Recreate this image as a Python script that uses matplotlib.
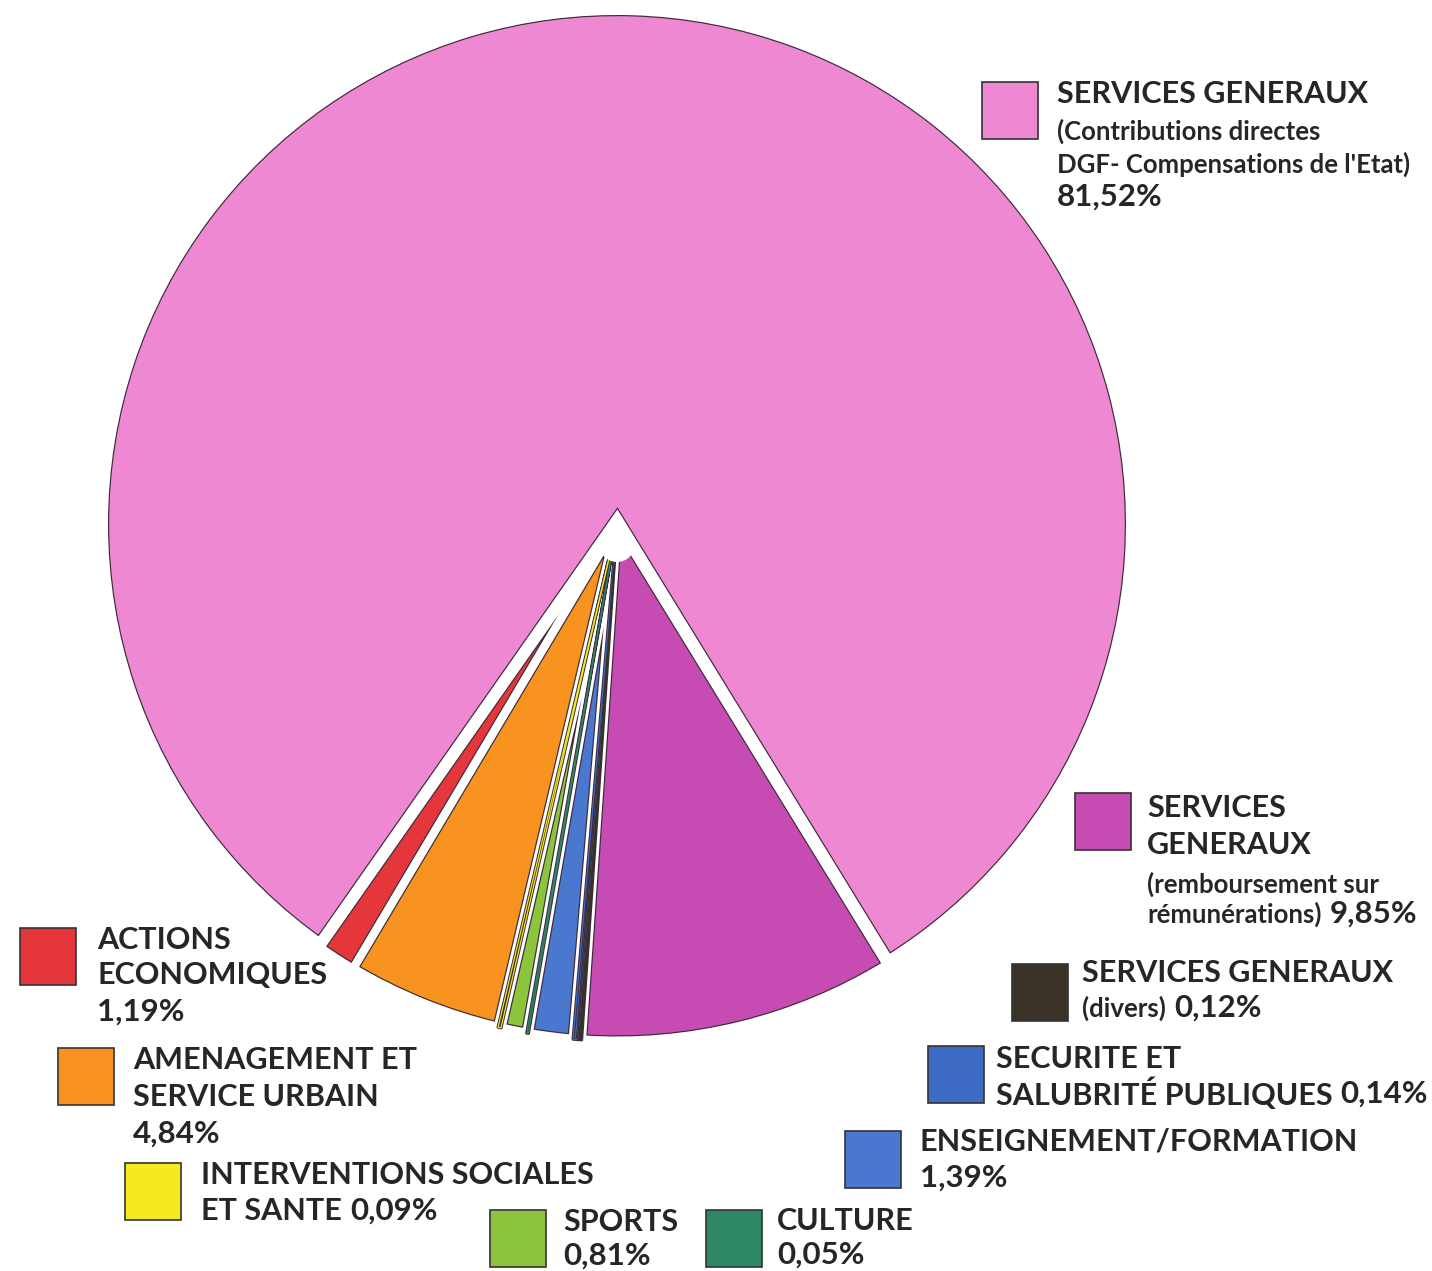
import matplotlib.pyplot as plt
from matplotlib.patches import Rectangle, Circle

# canvas in pixels
W, H = 1432, 1271

# slices, counter-clockwise from the left side of the notch
names = ["actions", "amenagement", "interventions", "sports", "culture",
         "enseignement", "securite", "divers", "remboursement", "contributions"]
shares = [1.19, 4.84, 0.09, 0.81, 0.05, 1.39, 0.14, 0.12, 9.85, 81.52]
colors = ["#E5363B", "#F7931E", "#F5EA1F", "#8DC43E", "#2E8866",
          "#4A78CF", "#3D6AC3", "#3A3226", "#C64BB3", "#EE88D3"]

# legend captions, one list of runs per line ('b' caps, 's' small, 'p' percent), {p} = share
captions = {
    "contributions": [[("SERVICES GENERAUX", "b")], [("(Contributions directes", "s")],
                      [("DGF- Compensations de l'Etat)", "s")], [("{p}", "p")]],
    "remboursement": [[("SERVICES", "b")], [("GENERAUX", "b")],
                      [("(remboursement sur", "s")], [("rémunérations)", "s"), ("{p}", "p")]],
    "divers": [[("SERVICES GENERAUX", "b")], [("(divers)", "s"), ("{p}", "p")]],
    "securite": [[("SECURITE ET", "b")], [("SALUBRITÉ PUBLIQUES", "b"), ("{p}", "p")]],
    "enseignement": [[("ENSEIGNEMENT/FORMATION", "b")], [("{p}", "p")]],
    "actions": [[("ACTIONS", "b")], [("ECONOMIQUES", "b")], [("{p}", "p")]],
    "amenagement": [[("AMENAGEMENT ET", "b")], [("SERVICE URBAIN", "b")], [("{p}", "p")]],
    "interventions": [[("INTERVENTIONS SOCIALES", "b")], [("ET SANTE", "b"), ("{p}", "p")]],
    "sports": [[("SPORTS", "b")], [("{p}", "p")]],
    "culture": [[("CULTURE", "b")], [("{p}", "p")]],
}

# legend layout: box left, box top, text left, y of each text line (image px)
legend_pos = {
    "contributions": (982, 82, 1057, [94, 131, 164, 197]),
    "remboursement": (1075, 793, 1147, [808, 845, 884, 914]),
    "divers": (1012, 964, 1082, [973, 1008]),
    "securite": (928, 1046, 996, [1059, 1094]),
    "enseignement": (845, 1131, 920, [1141, 1178]),
    "actions": (20, 928, 97, [940, 975, 1012]),
    "amenagement": (58, 1048, 133, [1060, 1097, 1134]),
    "interventions": (125, 1163, 201, [1175, 1211]),
    "sports": (490, 1210, 563, [1222, 1256]),
    "culture": (706, 1210, 777, [1221, 1255]),
}

# pie geometry / styles
CX, CY, R = 617, 524, 517
OUTLINE = "#3d2b3a"
OUT_PX = 1.2
band_px = {"contributions": 8, "remboursement": 4.5, "actions": 4, "amenagement": 4.5,
           "enseignement": 4.5, "sports": 4.5}
TINY = 0.2   # slices below this share are drawn as outlined strips
FONT = "Lato"
SIZES = {"b": 22, "s": 18.5, "p": 22.5}
TXT = "#262626"


def pct(v):
    return ("%.2f" % v).replace(".", ",") + "%"


def pt(px):
    return px * 72 / 100.0


def draw_pie(**wp):
    w, _ = ax.pie(shares, colors=colors, startangle=235, counterclock=True,
                  radius=R, center=(CX, H - CY), wedgeprops=wp)
    return w


fig = plt.figure(figsize=(W / 100, H / 100), dpi=100)
ax = fig.add_axes([0, 0, 1, 1])

# layer 1: fill + dark band, layer 2: white band, layer 3: thin white seam
w1 = draw_pie(edgecolor=OUTLINE, linewidth=1)
w2 = draw_pie(facecolor="none", edgecolor="white", linewidth=1)
w3 = draw_pie(facecolor="none", edgecolor="white", linewidth=pt(2.5))
for n, v, c, a, b, s in zip(names, shares, colors, w1, w2, w3):
    b.set_zorder(2)
    s.set_zorder(2.2)
    if v < TINY:
        # thin slices: dark strip with a coloured core
        s.set_visible(False)
        a.set_linewidth(pt(3.2))
        a.set_joinstyle("round")
        a.set_zorder(2.5)
        b.set_edgecolor(c)
        b.set_linewidth(pt(1.2))
        b.set_joinstyle("round")
        b.set_zorder(2.6)
        continue
    a.set_linewidth(pt(2 * (band_px[n] + OUT_PX)))
    b.set_linewidth(pt(2 * band_px[n]))
    for w in (a, b):
        w.set_clip_path(w)
        w.set_clip_on(True)

# white hub where the small slices meet (sits inside the notch)
ax.add_patch(Circle((CX, H - CY - 20), 18, facecolor="white", edgecolor="none", zorder=3))
ax.add_patch(Circle((CX, H - CY), 5, facecolor="white", edgecolor="none", zorder=3))

ax.set_xlim(0, W)
ax.set_ylim(0, H)
ax.set_aspect("equal")
ax.axis("off")

fig.canvas.draw()
rend = fig.canvas.get_renderer()

for n, v, c in zip(names, shares, colors):
    bx, by, tx, ys = legend_pos[n]
    ax.add_patch(Rectangle((bx, H - by - 57), 56, 57, facecolor=c,
                           edgecolor="#333333", linewidth=1.2, zorder=4))
    for y, runs in zip(ys, captions[n]):
        x = tx
        for s, kind in runs:
            t = ax.text(x, H - y, s.replace("{p}", pct(v)), fontsize=SIZES[kind],
                        family=FONT, fontweight="bold", color=TXT,
                        ha="left", va="center", zorder=5)
            x += t.get_window_extent(renderer=rend).width + 8

fig.savefig("out.png", dpi=100, facecolor="white")
